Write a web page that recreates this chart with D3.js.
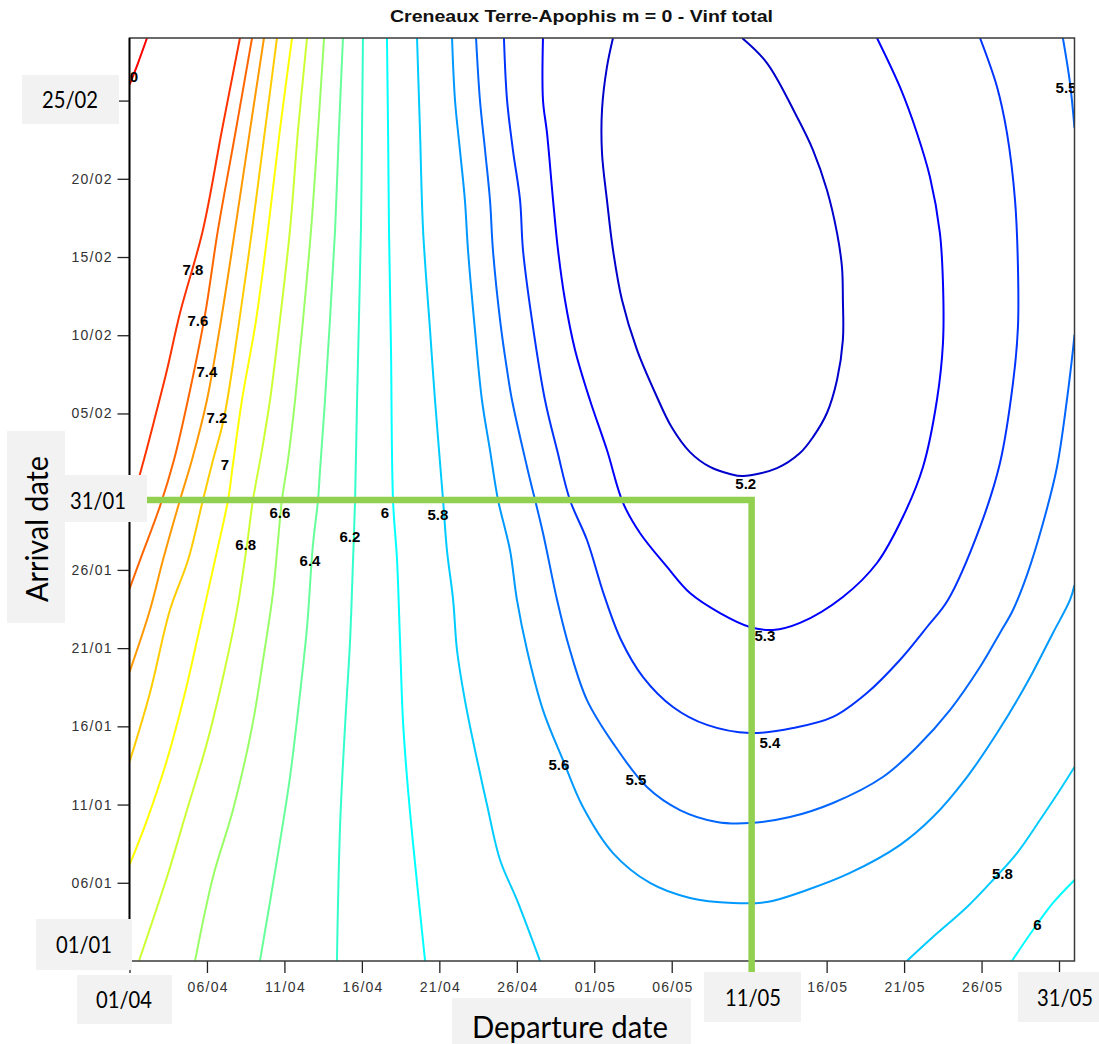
<!DOCTYPE html>
<html><head><meta charset="utf-8">
<script src="https://cdn.jsdelivr.net/npm/d3@7"></script>
<style>body{margin:0;background:#fff}svg{display:block}</style>
</head><body>
<svg id="chart" width="1099" height="1044"></svg>
<script>
// ---------------- DATA ----------------
const chartTitle = "Creneaux Terre-Apophis m = 0 - Vinf total";
// departure: days after 01/04 ; arrival: days after 01/01
const departureTickDays = [0,5,10,15,20,25,30,35,40,45,50,55,60];
const departureTickLabels = ["01/04","06/04","11/04","16/04","21/04","26/04","01/05","06/05","11/05","16/05","21/05","26/05","31/05"];
const arrivalTickDays = [0,5,10,15,20,25,30,35,40,45,50,55];
const arrivalTickLabels = ["01/01","06/01","11/01","16/01","21/01","26/01","31/01","05/02","10/02","15/02","20/02","25/02"];
const levels = [5.2,5.3,5.4,5.5,5.6,5.8,6,6.2,6.4,6.6,6.8,7,7.2,7.4,7.6,7.8,8];

// contour polylines [departure day, arrival day]
const c80 = [[1.13,59.0],[0.55,57.4],[0,56.0]];
const c78 = [[7.13,59.0],[5.97,53.12],[4.74,46.73],[3.26,41.42],[2.42,37.78],[1.65,34.77],[0.87,31.83],[0.36,30.11],[0,29.3]];
const c76 = [[7.91,59.0],[6.81,52.80],[5.71,46.73],[4.87,41.29],[3.84,36.18],[2.87,32.02],[1.97,29.08],[0.68,25.63],[0,23.78]];
const c74 = [[8.68,59.0],[7.78,53.12],[6.81,46.73],[5.91,40.97],[5.00,35.86],[4.03,32.02],[3.26,29.47],[2.16,25.63],[1.32,22.44],[0,18.47]];
const c72 = [[9.52,59.0],[8.75,53.12],[7.91,46.73],[7.00,40.33],[6.10,34.71],[5.39,32.02],[4.74,29.47],[3.78,25.63],[2.61,22.44],[1.32,17.13],[0,12.72]];
const c70 = [[10.49,59.0],[9.71,53.12],[8.94,46.73],[8.17,40.97],[7.26,35.86],[6.68,31.77],[6.36,29.47],[5.52,25.63],[4.55,21.35],[3.58,17.13],[2.42,12.85],[1.13,9.01],[0,6.14]];
const c68 = [[11.46,59.0],[10.88,53.12],[10.36,46.73],[9.71,40.97],[9.07,35.86],[8.55,32.66],[7.97,29.47],[7.58,26.59],[6.94,22.44],[6.04,18.15],[5.00,13.93],[3.71,9.65],[2.42,5.37],[0.61,0]];
const c66 = [[12.56,59.0],[12.17,53.12],[11.72,46.73],[11.20,40.97],[10.69,35.86],[10.23,32.02],[9.84,29.47],[9.59,26.91],[9.26,23.52],[8.62,19.24],[7.91,14.96],[6.68,9.65],[5.39,5.37],[4.23,0]];
const c64 = [[13.78,59.0],[13.52,53.12],[13.27,46.73],[12.94,40.97],[12.62,35.86],[12.30,31.39],[12.17,29.47],[11.84,26.59],[11.46,21.35],[11.01,17.13],[10.36,11.76],[9.52,6.46],[8.42,0]];
const c62 = [[15.07,59.0],[15.01,53.12],[14.94,46.73],[14.81,40.97],[14.69,35.86],[14.56,29.47],[14.43,25.63],[14.23,20.33],[13.91,14.96],[13.59,8.57],[13.39,0]];
const c60a = [[16.62,59.0],[16.69,53.12],[16.75,46.73],[16.88,39.06],[17.01,29.47],[17.27,25.63],[17.46,20.52],[17.65,15.41],[17.91,11.76],[18.30,7.54],[19.08,0]];
const c60b = [[56.96,0],[58.32,1.98],[59.61,3.71],[61,5.18]];
const c58a = [[18.56,59.0],[18.75,53.12],[18.95,46.73],[19.40,40.33],[19.72,35.86],[20.24,29.47],[20.49,26.27],[20.89,23.08],[21.14,19.88],[21.65,16.68],[22.30,13.49],[23.08,9.97],[23.92,6.46],[25.01,3.90],[26.50,0]];
const c58b = [[50.18,0],[51.86,1.53],[54.06,3.45],[55.74,5.18],[57.29,6.90],[58.77,9.01],[60.06,10.93],[61,12.40]];
const c56 = [[20.82,59.0],[21.01,55.04],[21.33,51.84],[21.65,48.64],[21.85,45.45],[22.30,40.33],[22.75,35.86],[23.27,32.66],[23.79,29.47],[24.56,26.27],[25.01,23.08],[25.66,19.88],[26.69,16.04],[27.98,12.85],[29.27,9.84],[31.21,6.90],[33.60,4.99],[36.18,4.03],[38.96,3.71],[41.15,3.77],[43.73,4.54],[46.51,5.63],[49.73,7.41],[51.86,9.20],[54.06,11.76],[56.00,14.57],[57.93,17.77],[59.61,20.97],[60.71,23.08],[61,24.03]];
const c55a = [[22.37,59.0],[22.62,55.04],[22.95,51.84],[23.27,48.64],[23.46,45.45],[23.92,40.97],[24.37,37.78],[24.69,35.86],[25.66,31.58],[26.69,27.36],[27.60,23.08],[28.43,19.88],[29.53,16.68],[31.21,13.93],[33.40,11.12],[35.53,9.65],[37.92,8.89],[40.05,8.82],[42.63,9.20],[45.41,10.10],[48.63,11.76],[50.83,13.68],[52.96,16.04],[54.90,18.79],[56.19,20.97],[57.03,22.44],[57.93,24.67],[58.97,28.00],[59.87,31.58],[60.51,35.86],[60.90,39.06],[61,40.02]];
const c55b = [[60.25,59.0],[60.71,56.12],[61,53.25]];
const c54 = [[24.17,59.0],[24.37,55.04],[24.75,51.84],[25.21,48.64],[25.40,45.45],[25.98,40.97],[26.82,35.86],[27.60,32.66],[28.43,29.47],[29.53,26.91],[30.63,23.40],[31.73,20.52],[33.15,18.15],[35.08,16.24],[37.28,15.09],[40.05,14.57],[42.83,14.89],[45.41,15.60],[47.60,17.13],[49.73,19.24],[51.48,21.35],[52.83,23.08],[54.90,27.74],[56.19,31.83],[57.03,36.95],[57.35,40.53],[57.35,44.36],[57.16,48.64],[56.64,52.93],[56.00,55.87],[54.90,59.0]];
const c53 = [[26.69,59.0],[26.69,55.04],[26.95,52.93],[27.34,48.64],[27.66,45.45],[28.11,42.25],[28.76,39.06],[29.72,35.86],[30.82,32.66],[31.86,29.28],[32.95,27.36],[34.70,25.19],[36.18,23.52],[38.12,22.24],[40.05,21.35],[41.54,21.16],[43.28,21.61],[46.05,23.27],[48.25,25.44],[49.92,28.38],[51.22,31.58],[52.12,35.86],[52.51,39.50],[52.51,43.34],[52.31,46.54],[51.67,50.11],[50.83,52.93],[49.73,55.87],[48.25,59.0]];
const c52 = [[31.21,59.0],[30.82,57.15],[30.50,54.40],[30.50,51.65],[30.82,48.64],[31.21,45.45],[31.79,42.25],[32.76,39.06],[33.99,36.18],[34.99,34.13],[36.18,32.53],[37.47,31.58],[38.76,31.13],[39.60,31.00],[41.80,31.51],[43.28,32.47],[44.12,33.49],[45.02,35.03],[45.67,37.14],[46.05,39.70],[46.05,42.25],[45.99,44.36],[45.67,46.54],[45.02,49.28],[44.12,51.84],[43.09,53.95],[41.15,57.40],[39.54,59.0]];

const contourLines = [
  {level:8, points:c80},{level:7.8, points:c78},{level:7.6, points:c76},{level:7.4, points:c74},
  {level:7.2, points:c72},{level:7, points:c70},{level:6.8, points:c68},{level:6.6, points:c66},
  {level:6.4, points:c64},{level:6.2, points:c62},{level:6, points:c60a},{level:6, points:c60b},
  {level:5.8, points:c58a},{level:5.8, points:c58b},{level:5.6, points:c56},{level:5.5, points:c55a},
  {level:5.5, points:c55b},{level:5.4, points:c54},{level:5.3, points:c53},{level:5.2, points:c52}
];

// inline contour labels [text, departure day, arrival day]
const contourLabels = [
  ["0",0.29,56.53],["7.8",4.10,44.17],["7.6",4.42,40.91],["7.4",5.00,37.65],["7.2",5.65,34.71],
  ["7",6.16,31.71],["6.8",7.50,26.59],["6.6",9.71,28.64],["6.4",11.65,25.57],["6.2",14.23,27.10],
  ["6",16.49,28.64],["5.8",19.91,28.51],["5.6",27.72,12.53],["5.5",32.69,11.57],["5.4",41.34,13.93],
  ["5.3",41.02,20.77],["5.2",39.78,30.49],["5.5",60.45,55.85],["5.8",56.34,5.56],["6",58.60,2.30]
];

// highlighted window (departure 11/05, arrival 31/01)
const highlightDeparture = 40.16;
const highlightArrival = 29.47;
const calloutTexts = ["25/02","31/01","01/01","01/04","11/05","31/05"];
const departureTitle = "Departure date";
const arrivalTitle = "Arrival date";

// ---------------- STYLE / LAYOUT ----------------
const palette = ["#0000cc","#0000ff","#0033ff","#0066ff","#0099ff","#00ccff","#00ffff","#33ffcc","#66ff99",
                 "#99ff66","#ccff33","#ffff00","#ffcc00","#ff9900","#ff6600","#ff3300","#ff0000"];
const color = d3.scaleOrdinal(levels, palette);

const W = 1099, H = 1044;
const plot = {left:129.5, right:1074.5, top:38, bottom:961};
const x = d3.scaleLinear([0,61],[plot.left, plot.right]);
const y = d3.scaleLinear([0,59],[plot.bottom, plot.top]);

const svg = d3.select("#chart");
svg.append("rect").attr("width",W).attr("height",H).attr("fill","#fff");

svg.append("defs").append("clipPath").attr("id","plotclip")
  .append("rect").attr("x",plot.left).attr("y",plot.top)
  .attr("width",plot.right-plot.left).attr("height",plot.bottom-plot.top);

// title
svg.append("text").attr("x",581.5).attr("y",22).attr("text-anchor","middle")
  .attr("font-family","'Liberation Sans',Arial,sans-serif").attr("font-weight","bold")
  .attr("font-size",17).attr("textLength",383).attr("lengthAdjust","spacingAndGlyphs")
  .attr("fill","#111").text(chartTitle);

// contour lines
const line = d3.line().x(d=>x(d[0])).y(d=>y(d[1])).curve(d3.curveCatmullRom.alpha(0.5));
const gC = svg.append("g").attr("clip-path","url(#plotclip)");
gC.selectAll("path.c").data(contourLines).join("path").attr("class","c")
  .attr("d",d=>line(d.points)).attr("fill","none")
  .attr("stroke",d=>color(d.level)).attr("stroke-width",2);

// contour labels
gC.selectAll("text.cl").data(contourLabels).join("text").attr("class","cl")
  .attr("x",d=>x(d[1])).attr("y",d=>y(d[2])).attr("dy","0.36em")
  .attr("text-anchor","middle").attr("font-family","'Liberation Sans',Arial,sans-serif")
  .attr("font-weight","bold").attr("font-size",15).attr("fill","#000").text(d=>d[0]);

// axes
const tickFont = "'Liberation Sans',Arial,sans-serif";
const ax = svg.append("g").attr("transform",`translate(0,${plot.bottom})`)
  .call(d3.axisBottom(x).tickValues(departureTickDays).tickFormat((d,i)=>departureTickLabels[i]).tickSize(12).tickPadding(9));
const ay = svg.append("g").attr("transform",`translate(${plot.left},0)`)
  .call(d3.axisLeft(y).tickValues(arrivalTickDays).tickFormat((d,i)=>arrivalTickLabels[i]).tickSize(12).tickPadding(6));
[ax,ay].forEach(g=>{
  g.select(".domain").remove();
  g.selectAll(".tick line").attr("stroke","#222").attr("stroke-width",1.3);
  g.selectAll(".tick text").attr("font-family",tickFont).attr("font-size",14).attr("fill","#333")
    .attr("textLength",40).attr("lengthAdjust","spacing");
});

// frame
svg.append("rect").attr("x",plot.left).attr("y",plot.top)
  .attr("width",plot.right-plot.left).attr("height",plot.bottom-plot.top)
  .attr("fill","none").attr("stroke","#3a3a3a").attr("stroke-width",1.5);
svg.append("line").attr("x1",plot.left).attr("x2",plot.left).attr("y1",plot.top).attr("y2",plot.bottom)
  .attr("stroke","#000").attr("stroke-width",1.8);

// highlight lines
svg.append("path")
  .attr("d",`M${x(0)},${y(highlightArrival)}L${x(highlightDeparture)},${y(highlightArrival)}L${x(highlightDeparture)},${y(-1)}`)
  .attr("fill","none").attr("stroke","#92d050").attr("stroke-width",6.5).attr("stroke-linejoin","miter");

// callout boxes
const boxFont = "Lato,'Open Sans',sans-serif";
const callouts = [
  {t:calloutTexts[0], r:[22,75,97,49], c:[70,99.5]},
  {t:calloutTexts[1], r:[50,475,97,47], c:[98,500]},
  {t:calloutTexts[2], r:[36,919,96,51], c:[84,944]},
  {t:calloutTexts[3], r:[77,975,95,49], c:[124,999]},
  {t:calloutTexts[4], r:[704,972,97,50], c:[753,997]},
  {t:calloutTexts[5], r:[1018,972,81,50], c:[1065,997]}
];
const gB = svg.append("g");
callouts.forEach(b=>{
  gB.append("rect").attr("x",b.r[0]).attr("y",b.r[1]).attr("width",b.r[2]).attr("height",b.r[3]).attr("fill","#f2f2f2");
  gB.append("text").attr("x",b.c[0]).attr("y",b.c[1]).attr("dy","0.36em").attr("text-anchor","middle")
    .attr("font-family",boxFont).attr("font-size",24).attr("fill","#000")
    .attr("textLength",56).attr("lengthAdjust","spacingAndGlyphs").text(b.t);
});
// axis title boxes
gB.append("rect").attr("x",452).attr("y",998).attr("width",239).attr("height",46).attr("fill","#f2f2f2");
gB.append("text").attr("x",570).attr("y",1027).attr("dy","0.35em").attr("text-anchor","middle")
  .attr("font-family",boxFont).attr("font-size",30).attr("fill","#000")
  .attr("textLength",196).attr("lengthAdjust","spacingAndGlyphs").text(departureTitle);
gB.append("rect").attr("x",7).attr("y",431).attr("width",58).attr("height",192).attr("fill","#f2f2f2");
gB.append("text").attr("transform","translate(37,529) rotate(-90)").attr("dy","0.35em").attr("text-anchor","middle")
  .attr("font-family",boxFont).attr("font-size",30).attr("fill","#000")
  .attr("textLength",146).attr("lengthAdjust","spacingAndGlyphs").text(arrivalTitle);
</script>
</body></html>
